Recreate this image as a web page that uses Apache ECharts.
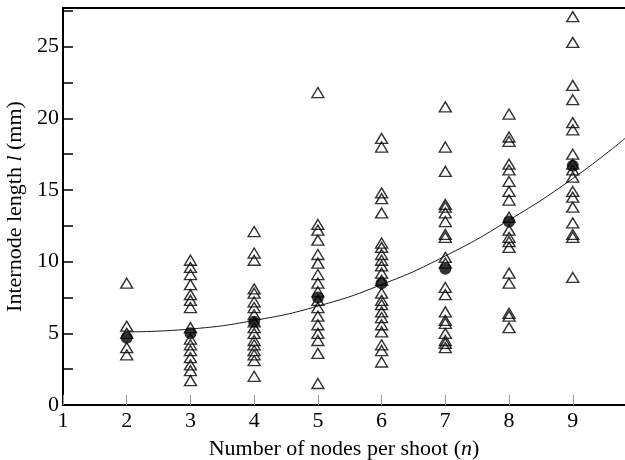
<!DOCTYPE html>
<html>
<head>
<meta charset="utf-8">
<script src="https://cdn.jsdelivr.net/npm/echarts@6/dist/echarts.min.js"></script>
<style>
  html, body { margin: 0; padding: 0; background: #fff; }
  #chart { width: 625px; height: 460px; }
</style>
</head>
<body>
<div id="chart"></div>
<script>
// internode lengths (mm) observed per number of nodes
var nodes = [2, 3, 4, 5, 6, 7, 8, 9];
var lengths = {
  2: [8.5, 5.5, 5.0, 4.0, 3.5],
  3: [10.1, 9.6, 9.1, 8.4, 7.7, 7.3, 6.8, 5.4, 4.6, 4.2, 3.8, 3.3, 2.8, 2.4, 1.7],
  4: [12.1, 10.6, 10.1, 8.1, 7.8, 7.2, 6.8, 6.3, 5.8, 5.4, 5.0, 4.5, 4.2, 3.8, 3.5, 3.1, 2.0],
  5: [21.8, 12.6, 12.2, 11.5, 10.5, 9.9, 9.1, 8.5, 7.9, 7.3, 6.8, 6.2, 5.6, 5.0, 4.5, 3.6, 1.5],
  6: [18.6, 18.0, 14.8, 14.4, 13.4, 11.3, 11.0, 10.5, 10.1, 9.7, 9.2, 8.7, 7.8, 7.3, 7.0, 6.5, 6.1, 5.6, 5.1, 4.2, 3.8, 3.0],
  7: [20.8, 18.0, 16.3, 14.0, 13.8, 13.4, 12.8, 11.9, 11.7, 10.3, 9.9, 8.2, 7.7, 6.5, 5.9, 5.7, 5.0, 4.5, 4.3, 4.0],
  8: [20.3, 18.7, 18.4, 16.8, 16.4, 15.6, 14.9, 14.3, 13.1, 12.2, 11.7, 11.4, 11.0, 9.2, 8.5, 6.4, 6.2, 5.4],
  9: [27.1, 25.3, 22.3, 21.3, 19.7, 19.2, 17.5, 16.8, 16.4, 15.9, 14.9, 14.5, 13.8, 12.7, 11.9, 11.7, 8.9]
};
var means = [4.7, 5.0, 5.8, 7.5, 8.5, 9.5, 12.8, 16.7];
// fitted curve
var fitX = [2, 3, 4, 5, 6, 7, 8, 9, 9.82];
var fitY = [5.1, 5.3, 5.9, 6.9, 8.4, 10.4, 12.9, 15.8, 18.6];

var chart = echarts.init(document.getElementById('chart'));
var serif = '"Liberation Serif", "DejaVu Serif", serif';

var obs = [];
nodes.forEach(function (n) {
  lengths[n].forEach(function (v) { obs.push([n, v]); });
});

var option = {
  animation: false,
  backgroundColor: '#fff',
  grid: { left: 63, right: 0, top: 8, bottom: 55, outerBoundsMode: 'none', containLabel: false },
  xAxis: [{
    type: 'value',
    min: 1,
    max: 9.82,
    interval: 1,
    name: '{t|Number of nodes per shoot (}{i|n}{t|)}',
    nameLocation: 'middle',
    nameGap: 33,
    nameTextStyle: {
      rich: {
        t: { fontFamily: serif, fontSize: 22, color: '#000' },
        i: { fontFamily: serif, fontSize: 22, fontStyle: 'italic', color: '#000' }
      }
    },
    axisLine: { lineStyle: { color: '#000', width: 2 } },
    axisTick: { inside: true, length: 10, lineStyle: { color: '#999', width: 1 } },
    axisLabel: {
      fontFamily: serif, fontSize: 22, color: '#000', margin: 5,
      showMaxLabel: false,
      formatter: function (v) { return Number.isInteger(v) ? String(v) : ''; }
    },
    splitLine: { show: false }
  }, {
    type: 'value',
    position: 'top',
    min: 1,
    max: 9.82,
    axisLine: { show: true, lineStyle: { color: '#000', width: 2 } },
    axisTick: { show: false },
    axisLabel: { show: false },
    splitLine: { show: false }
  }],
  yAxis: {
    type: 'value',
    min: 0,
    max: 27.7,
    interval: 2.5,
    name: '{t|Internode length }{i|l}{t| (mm)}',
    nameLocation: 'middle',
    nameRotate: 90,
    nameGap: 30,
    nameTextStyle: {
      rich: {
        t: { fontFamily: serif, fontSize: 22, color: '#000' },
        i: { fontFamily: serif, fontSize: 22, fontStyle: 'italic', color: '#000' }
      }
    },
    axisLine: { show: true, lineStyle: { color: '#000', width: 2 } },
    axisTick: { inside: true, length: 10, lineStyle: { color: '#000', width: 1.5 } },
    axisLabel: {
      fontFamily: serif, fontSize: 22, color: '#000', margin: 4,
      formatter: function (v) { return v % 5 === 0 ? String(v) : ''; }
    },
    splitLine: { show: false }
  },
  series: [{
    type: 'scatter',
    data: obs,
    symbol: 'triangle',
    symbolSize: [12, 10],
    itemStyle: { color: 'rgba(0,0,0,0)', borderColor: '#000', borderWidth: 1.4 },
    z: 2
  }, {
    type: 'line',
    data: fitX.map(function (x, i) { return [x, fitY[i]]; }),
    smooth: true,
    showSymbol: false,
    lineStyle: { color: '#000', width: 0.9 },
    z: 3
  }, {
    type: 'scatter',
    data: nodes.map(function (n, i) { return [n, means[i]]; }),
    symbol: 'circle',
    symbolSize: 12,
    itemStyle: { color: '#000' },
    z: 4
  }]
};
chart.setOption(option);
</script>
</body>
</html>
